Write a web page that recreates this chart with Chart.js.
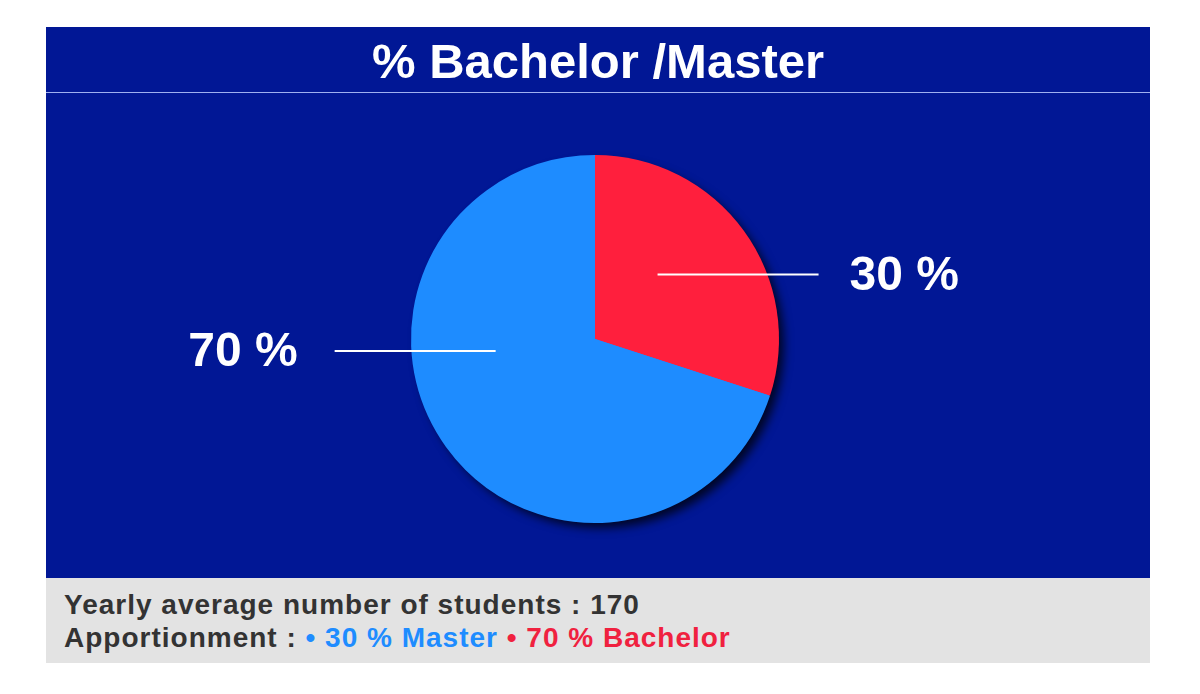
<!DOCTYPE html>
<html>
<head>
<meta charset="utf-8">
<script src="https://cdn.jsdelivr.net/npm/chart.js@4"></script>
<style>
  body { margin: 0; background: #fff; width: 1200px; height: 694px; position: relative; overflow: hidden; font-family: "Liberation Sans", Arial, sans-serif; }
  .panel { position: absolute; left: 46px; top: 27px; width: 1104px; height: 551px; background: #011795; }
  .title { height: 65px; border-bottom: 1px solid #9fb0f0; color: #fff; font-weight: bold; font-size: 49px; text-align: center; line-height: 68px; }
  .chart-box { position: absolute; left: 0; top: 66px; width: 1104px; height: 485px; }
  .footer { position: absolute; left: 46px; top: 578px; width: 1104px; height: 85px; background: #e3e3e3; color: #333; font-weight: bold; font-size: 28px; letter-spacing: 1px; }
  .footer div { position: absolute; left: 18px; white-space: nowrap; line-height: 28px; }
  .blue { color: #1e8cff; }
  .red { color: #f0213f; }
</style>
</head>
<body>
<div class="panel">
  <div class="title">% Bachelor /Master</div>
  <div class="chart-box"><canvas id="pie"></canvas></div>
</div>
<div class="footer">
  <div style="top: 13px;">Yearly average number of students : 170</div>
  <div style="top: 46px;">Apportionment : <span class="blue">• 30 % Master</span> <span class="red">• 70 % Bachelor</span></div>
</div>
<script>
const categories = ['Master', 'Bachelor']
const shares = [30, 70]
const sliceColors = ['#ff1f3d', '#1e8cff']
const shareLabels = ['30 %', '70 %']

// where each leader line starts inside its slice (in radius units) and which way it runs
const leaders = [
  { dx: 0.34, dy: -0.35, dir: 1, gap: 31 },
  { dx: -0.54, dy: 0.065, dir: -1, gap: 37 }
]

// soft shadow under the whole pie, drawn once so slices don't shade each other
const pieShadow = {
  id: 'pieShadow',
  beforeDatasetsDraw(chart) {
    const arc = chart.getDatasetMeta(0).data[0]
    const ctx = chart.ctx
    ctx.save()
    ctx.shadowColor = 'rgba(0, 0, 0, 0.75)'
    ctx.shadowBlur = 10
    ctx.shadowOffsetX = 6
    ctx.shadowOffsetY = 6
    ctx.fillStyle = sliceColors[1]
    ctx.beginPath()
    ctx.arc(arc.x, arc.y, arc.outerRadius - 1, 0, Math.PI * 2)
    ctx.fill()
    ctx.restore()
  }
}

const leaderLabels = {
  id: 'leaderLabels',
  afterDatasetsDraw(chart) {
    const ctx = chart.ctx
    const arcs = chart.getDatasetMeta(0).data
    ctx.save()
    arcs.forEach((arc, i) => {
      const r = arc.outerRadius
      const x0 = arc.x + leaders[i].dx * r
      const y0 = arc.y + leaders[i].dy * r
      const x1 = x0 + leaders[i].dir * 161
      ctx.strokeStyle = '#fff'
      ctx.lineWidth = 2
      ctx.beginPath()
      ctx.moveTo(x0, y0)
      ctx.lineTo(x1, y0)
      ctx.stroke()
      ctx.fillStyle = '#fff'
      ctx.font = 'bold 48px "Liberation Sans", Arial, sans-serif'
      ctx.textBaseline = 'middle'
      ctx.textAlign = leaders[i].dir > 0 ? 'left' : 'right'
      ctx.fillText(shareLabels[i], x1 + leaders[i].dir * leaders[i].gap, y0 + 2)
    })
    ctx.restore()
  }
}

new Chart(document.getElementById('pie'), {
  type: 'pie',
  data: {
    labels: categories,
    datasets: [{
      data: shares,
      backgroundColor: sliceColors,
      borderWidth: 0
    }]
  },
  options: {
    responsive: true,
    maintainAspectRatio: false,
    animation: false,
    layout: { padding: { top: 62, bottom: 55, left: 0, right: 6 } },
    plugins: {
      legend: { display: false },
      tooltip: { enabled: false }
    }
  },
  plugins: [pieShadow, leaderLabels]
})
</script>
</body>
</html>
